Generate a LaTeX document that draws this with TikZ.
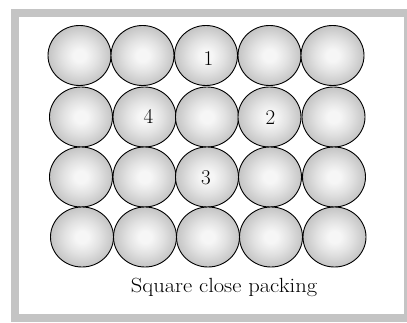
\documentclass[tikz,border=0pt]{standalone}
\usepackage{fontspec}
\usepackage{graphicx}
\usetikzlibrary{shapes.geometric}
\definecolor{framegray}{HTML}{C4C4C4}
\definecolor{ballin}{HTML}{F6F6F6}
\definecolor{ballmid}{HTML}{E2E2E2}
\definecolor{ballout}{HTML}{C4C4C4}
\pgfdeclareradialshading{ballshade}{\pgfpoint{0bp}{0bp}}{color(0bp)=(ballin); color(5bp)=(ballin); color(14bp)=(ballmid); color(25bp)=(ballout); color(50bp)=(ballout)}
\begin{document}
\begin{tikzpicture}[x=1pt,y=1pt,
  ball/.style={ellipse, draw=black, line width=0.9pt, minimum width=63pt, minimum height=60pt, inner sep=0pt, shading=ballshade},
  num/.style={font=\fontsize{21}{23}\selectfont, inner sep=0pt, anchor=base},
  caption/.style={font=\fontsize{20.5}{23}\selectfont, inner sep=0pt, anchor=base}]
\useasboundingbox (0,0) rectangle (407,322);
\fill[framegray] (11,0) rectangle (407,313);
\fill[white] (19,8) rectangle (404,305);
% row 1
\node[ball] (b11) at (79.5,266.5) {};
\node[ball] (b12) at (142.5,266.5) {};
\node[ball] (b13) at (206,266.5) {};
\node[ball] (b14) at (269.5,266.5) {};
\node[ball] (b15) at (332.5,266.5) {};
% row 2
\node[ball] (b21) at (81,205) {};
\node[ball] (b22) at (144.5,205) {};
\node[ball] (b23) at (207,205) {};
\node[ball] (b24) at (269.5,205) {};
\node[ball] (b25) at (333.5,205) {};
% row 3
\node[ball] (b31) at (81,145) {};
\node[ball] (b32) at (144.5,145) {};
\node[ball] (b33) at (207,145) {};
\node[ball] (b34) at (270,145) {};
\node[ball] (b35) at (334,145) {};
% row 4
\node[ball] (b41) at (82,85) {};
\node[ball] (b42) at (145,85) {};
\node[ball] (b43) at (208,85) {};
\node[ball] (b44) at (271,85) {};
\node[ball] (b45) at (334.5,85) {};
% labels
\node[num] (n1) at (208.5,256.3) {1};
\node[num] (n4) at (148.5,199) {4};
\node[num] (n2) at (270.5,198) {2};
\node[num] (n3) at (206,138) {3};
\node[caption] (cap) at (224,29.3) {\scalebox{1.1}[1]{Square close packing}};
\end{tikzpicture}
\end{document}
